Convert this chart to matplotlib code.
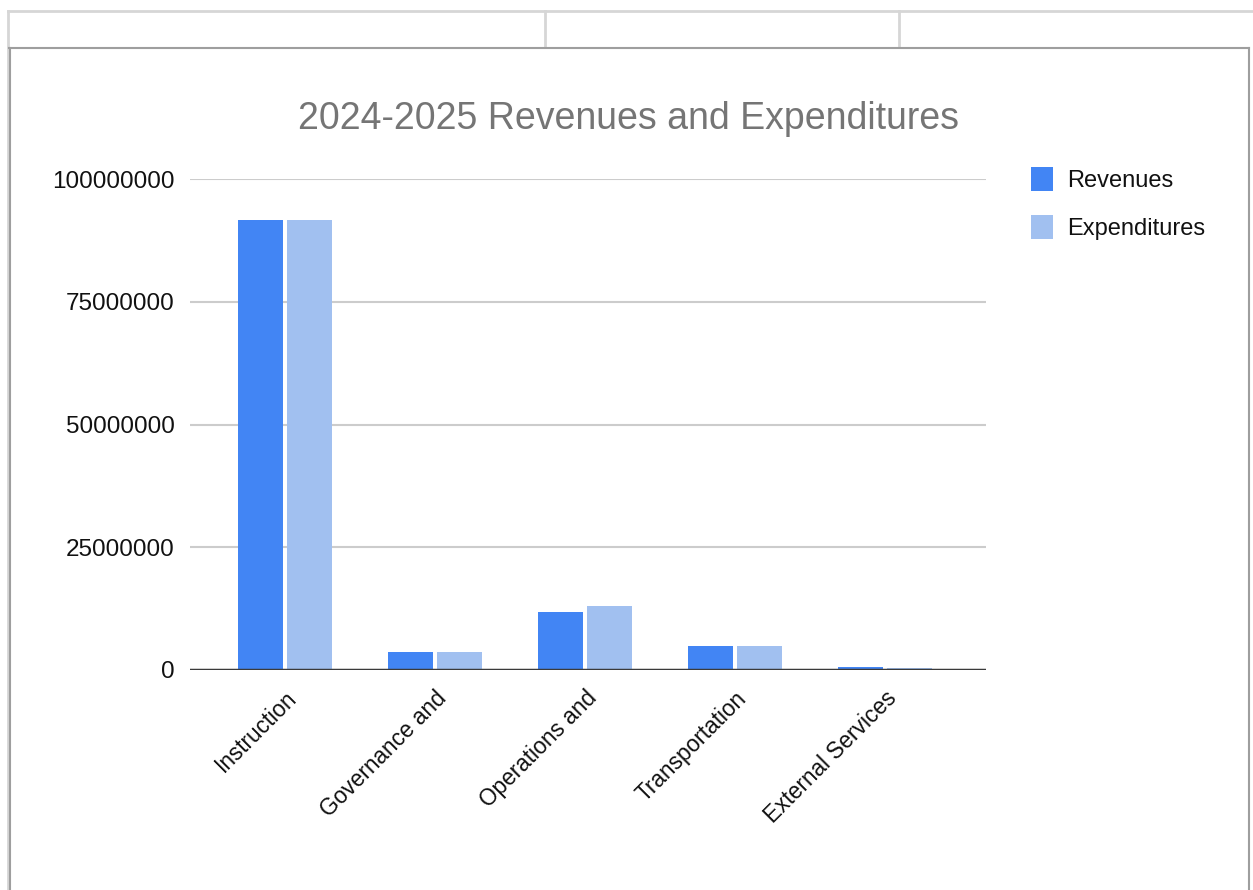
import numpy as np
import matplotlib.pyplot as plt
from matplotlib.lines import Line2D

plt.rcParams['font.family'] = ['Liberation Sans', 'DejaVu Sans']

# data
categories = ['Instruction', 'Governance and', 'Operations and',
              'Transportation', 'External Services']
revenues = [91600000, 3700000, 11800000, 4900000, 600000]
expenditures = [91600000, 3700000, 13000000, 4900000, 500000]
yticks = [0, 25000000, 50000000, 75000000, 100000000]

W, H = 1253, 890
fig = plt.figure(figsize=(W / 100, H / 100), dpi=100)
fig.patch.set_facecolor('white')


def line(x0, y0, x1, y1, color, lw):
    """Draw a line given in pixels from the top-left corner."""
    fig.add_artist(Line2D([x0 / W, x1 / W], [1 - y0 / H, 1 - y1 / H],
                          color=color, lw=lw))


# spreadsheet cells behind the chart
line(8, 11, 1253, 11, '#d6d6d6', 2)
line(545, 11, 545, 47, '#d6d6d6', 2)
line(899, 11, 899, 47, '#d6d6d6', 2)
line(8, 11, 8, 890, '#d6d6d6', 2)
# chart frame (left, top, right)
line(9, 48, 1249, 48, '#9e9e9e', 1.5)
line(10, 48, 10, 890, '#9e9e9e', 1.5)
line(1249, 48, 1249, 890, '#9e9e9e', 1.5)

ax = fig.add_axes([190 / W, (H - 670) / H, (986 - 190) / W, (670 - 179) / H])
x = np.arange(len(categories))
bw = 0.3
ax.bar(x - bw / 2 - 0.013, revenues, bw, color='#4285f4', label='Revenues', zorder=3)
ax.bar(x + bw / 2 + 0.013, expenditures, bw, color='#a1c0f0', label='Expenditures', zorder=3)

ax.set_xlim(-0.633, 4.673)
ax.set_ylim(0, 100000000)
ax.set_yticks(yticks)
ax.set_yticklabels([str(v) for v in yticks], fontsize=17.5, color='#111111')
ax.yaxis.grid(True, color='#cccccc', lw=1.5, zorder=0)
ax.axhline(0, color='#3a3a3a', lw=2.5, zorder=4)
for s in ax.spines.values():
    s.set_visible(False)
ax.tick_params(length=0)
ax.tick_params(axis='y', pad=11)
ax.set_xticks(x)
ax.set_xticklabels(categories, rotation=45, ha='right', va='top',
                   rotation_mode='anchor', fontsize=16.3, color='#111111')
ax.tick_params(axis='x', pad=12)

fig.text(629 / W, 1 - 119 / H, '2024-2025 Revenues and Expenditures',
         ha='center', va='center', fontsize=27, color='#757575')

ax.legend(loc='upper left', bbox_to_anchor=(1010 / W, 1 - 146 / H),
          bbox_transform=fig.transFigure, frameon=False, fontsize=17,
          handlelength=0.9, handleheight=1.2, handletextpad=0.6,
          labelspacing=0.95, labelcolor='#111111')

fig.savefig('out.png', dpi=100, facecolor='white')
